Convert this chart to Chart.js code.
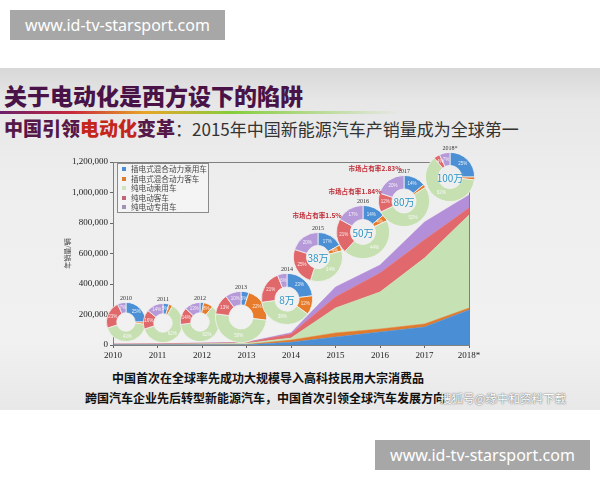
<!DOCTYPE html>
<html lang="zh-CN">
<head>
<meta charset="UTF-8">
<title>中国新能源汽车年销量</title>
<script src="https://cdn.jsdelivr.net/npm/chart.js"></script>
<style>
  body { margin:0; width:600px; height:480px; position:relative; overflow:hidden; background:#fff;
         font-family:"Noto Sans CJK SC","Noto Sans",sans-serif; }
  .wm { position:absolute; width:215px; height:30px; background:#a7a7a7; color:#fff;
        font:16px "Noto Sans",sans-serif; line-height:30px; text-align:center; }
  .slide { position:absolute; left:0; top:68px; width:600px; height:342px;
           background:linear-gradient(#d8d8d8 0%, #e7e7e7 10%, #eeeeee 35%, #f1f1f1 80%, #e8e8e8 100%); }
  .t1 { position:absolute; left:4px; top:81px; font-size:23px; line-height:28px; font-weight:900; color:#4a1348; white-space:nowrap; }
  .rainbow { position:absolute; left:0; top:111px; width:400px; height:3px;
             background:linear-gradient(to right,#6a1f6a,#c8283c 18%,#e8a526 36%,#86cd3c 58%,rgba(150,215,90,0) 100%); }
  .t2 { position:absolute; left:4px; top:117px; line-height:22px; white-space:nowrap; color:#333; font-size:17px; }
  .t2 b { font-size:19px; color:#561848; font-weight:900; }
  .t2 b.red { color:#c4261c; }
  .legend { position:absolute; left:117px; top:163px; width:90px; height:48px; border:1px solid #8a8a8a;
            background:rgba(246,246,246,0.7); }
  .legend div { height:9.6px; line-height:9.6px; font-size:7.6px; color:#444; white-space:nowrap; padding-left:4px; }
  .legend span { display:inline-block; width:4px; height:4px; margin-right:5px; vertical-align:1px; }
  .lbl { position:absolute; transform:translate(-50%,-50%); white-space:nowrap; }
  .yr { font:6px "Liberation Serif",serif; color:#333; }
  .tot { font-size:10px; color:#2b93c3; text-shadow:0 0 2px #fff; }
  .share { font-size:6.6px; font-weight:bold; color:#c0303a; }
  canvas { position:absolute; }
  .bt { position:absolute; font-size:12px; font-weight:bold; color:#111; white-space:nowrap; line-height:16px; }
  .sohu { position:absolute; left:440px; top:390px; font-size:11.5px; color:#fff; white-space:nowrap;
          text-shadow:0 0 1px #666, 0 0 2px #888; line-height:16px; }
</style>
</head>
<body>
<div class="wm" style="left:10px;top:10px">www.id-tv-starsport.com</div>
<div class="slide"></div>
<div class="t1">关于电动化是西方设下的陷阱</div>
<div class="rainbow"></div>
<div class="t2"><b>中国引领</b><b class="red">电动化</b><b>变革</b>：2015年中国新能源汽车产销量成为全球第一</div>

<canvas id="main" width="600" height="215" style="left:0;top:150px"></canvas>
<div class="legend" id="legend"></div>
<div id="donuts"></div>

<div class="bt" style="left:112px;top:370px">中国首次在全球率先成功大规模导入高科技民用大宗消费品</div>
<div class="bt" style="left:85px;top:390px">跨国汽车企业先后转型新能源汽车，中国首次引领全球汽车发展方向</div>
<div class="sohu">搜狐号@缘中和资料下载</div>
<div class="wm" style="left:375px;top:440px">www.id-tv-starsport.com</div>

<script>
// 年份
const years = ['2010', '2011', '2012', '2013', '2014', '2015', '2016', '2017', '2018*'];
const seriesNames = ['插电式混合动力乘用车', '插电式混合动力客车', '纯电动乘用车', '纯电动客车', '纯电动专用车'];

// 年销量（辆）
const phevCar = [1000, 1000, 1500, 2000, 18000, 52000, 85000, 118000, 230000];
const phevBus = [500, 500, 500, 1000, 14000, 27000, 20000, 20000, 12000];
const bevCar = [2500, 3500, 6500, 9000, 14000, 164000, 243000, 432000, 610000];
const bevBus = [2500, 2500, 3000, 4500, 26000, 72000, 124000, 120000, 46000];
const bevSpecial = [500, 500, 1500, 1500, 8000, 65000, 52000, 116000, 86000];

// 各年份环形图占比（%）
const phevCarShare = [25, 5, 3, 5, 23, 17, 14, 14, 25];
const phevBusShare = [2, 3, 8, 22, 12, 4, 4, 2, 2];
const bevCarShare = [43, 62, 62, 50, 38, 34, 44, 52, 62];
const bevBusShare = [23, 16, 14, 13, 21, 25, 21, 12, 4];
const bevSpecialShare = [7, 14, 13, 10, 6, 20, 17, 20, 7];

const totalLabels = ['', '', '', '', '8万', '38万', '50万', '80万', '100万'];
const shareLabels = ['市场占有率1.5%', '市场占有率1.84%', '市场占有率2.83%'];

const yTicks = [0, 200000, 400000, 600000, 800000, 1000000, 1200000];

// 样式
const areaColors = ['#4a8fd6', '#e07b2e', '#c6e1b3', '#e1686c', '#b48fd9'];
const donutColors = ['#4b8fd5', '#e77b2a', '#c6e0b2', '#e0686a', '#b699d8'];
const legendColors = ['#4a8fd6', '#e07b2e', '#cfe3bf', '#c06476', '#a293b4'];

// 环形图位置 [cx, cy, r]
const donutSpots = [
  [126, 322, 19], [163, 323, 19], [200, 322, 19], [241, 317, 25], [287, 299, 25],
  [318, 257, 24], [363, 232, 26], [404, 201, 25], [450, 177, 24]
];
const sharePos = [[317, 215], [355, 191], [375, 168]];

const seriesData = [phevCar, phevBus, bevCar, bevBus, bevSpecial];
const shareData = [phevCarShare, phevBusShare, bevCarShare, bevBusShare, bevSpecialShare];

// 图例
const legendEl = document.getElementById('legend');
seriesNames.forEach((n, i) => {
  const d = document.createElement('div');
  d.innerHTML = '<span style="background:' + legendColors[i] + '"></span>' + n;
  legendEl.appendChild(d);
});

const framePlugin = {
  id: 'frame',
  afterDraw(chart) {
    const a = chart.chartArea, ctx = chart.ctx;
    ctx.save();
    ctx.strokeStyle = '#808080';
    ctx.lineWidth = 1;
    ctx.strokeRect(a.left + 0.5, a.top + 0.5, a.right - a.left, a.bottom - a.top);
    ctx.restore();
  }
};

new Chart(document.getElementById('main'), {
  type: 'line',
  data: {
    labels: years,
    datasets: seriesNames.map((n, i) => ({
      label: n,
      data: seriesData[i],
      fill: i === 0 ? 'origin' : '-1',
      backgroundColor: areaColors[i],
      borderColor: areaColors[i],
      borderWidth: 0.5,
      pointRadius: 0,
      tension: 0
    }))
  },
  options: {
    responsive: false,
    animation: false,
    layout: { padding: { left: 60, top: 12, right: 131, bottom: 0 } },
    plugins: { legend: { display: false }, tooltip: { enabled: false } },
    scales: {
      x: {
        offset: false,
        grid: { drawOnChartArea: false, tickLength: 3, color: '#666' },
        border: { color: '#666' },
        ticks: { color: '#222', font: { family: '"Liberation Serif", serif', size: 9 }, padding: 2, maxRotation: 0, autoSkip: false },
        afterFit(s) { s.height = 20; }
      },
      y: {
        stacked: true,
        min: 0,
        max: 1200000,
        afterBuildTicks(s) { s.ticks = yTicks.map(v => ({ value: v })); },
        ticks: { color: '#222', font: { family: '"Liberation Serif", serif', size: 9 }, padding: 2,
                 callback: v => v.toLocaleString('en-US') },
        grid: { drawOnChartArea: false, tickLength: 3, color: '#666' },
        border: { color: '#666' },
        title: { display: true, text: '年销量/辆', color: '#444',
                 font: { family: '"Noto Sans CJK SC"', size: 7 }, padding: { top: 3 } },
        afterFit(s) { s.width = 53; }
      }
    }
  },
  plugins: [framePlugin]
});

// 环形图内百分比
const pctPlugin = {
  id: 'pct',
  afterDatasetsDraw(chart) {
    const ctx = chart.ctx;
    const meta = chart.getDatasetMeta(0);
    const vals = chart.data.datasets[0].data;
    ctx.save();
    ctx.fillStyle = 'rgba(255,255,255,0.85)';
    ctx.font = '4.5px "Liberation Sans"';
    ctx.textAlign = 'center';
    ctx.textBaseline = 'middle';
    meta.data.forEach((arc, i) => {
      if (vals[i] < 4) return;
      const p = arc.tooltipPosition();
      ctx.fillText(vals[i] + '%', p.x, p.y);
    });
    ctx.restore();
  }
};

const holder = document.getElementById('donuts');
function addLabel(cls, text, x, y) {
  const d = document.createElement('div');
  d.className = 'lbl ' + cls;
  d.textContent = text;
  d.style.left = x + 'px';
  d.style.top = y + 'px';
  holder.appendChild(d);
}

years.forEach((yr, k) => {
  const [cx, cy, r] = donutSpots[k];
  const c = document.createElement('canvas');
  c.width = 2 * r + 2;
  c.height = 2 * r + 2;
  c.style.left = (cx - r - 1) + 'px';
  c.style.top = (cy - r - 1) + 'px';
  holder.appendChild(c);
  new Chart(c, {
    type: 'doughnut',
    data: {
      labels: seriesNames,
      datasets: [{
        data: shareData.map(s => s[k]),
        backgroundColor: donutColors,
        borderColor: '#f3f3f3',
        borderWidth: 0.8
      }]
    },
    options: {
      responsive: false,
      animation: false,
      cutout: '47%',
      layout: { padding: 0 },
      plugins: { legend: { display: false }, tooltip: { enabled: false } }
    },
    plugins: [pctPlugin]
  });
  addLabel('yr', yr, cx, cy - r - 5);
  if (totalLabels[k]) addLabel('tot', totalLabels[k], cx, cy);
});

shareLabels.forEach((t, i) => addLabel('share', t, sharePos[i][0], sharePos[i][1]));
</script>
</body>
</html>
